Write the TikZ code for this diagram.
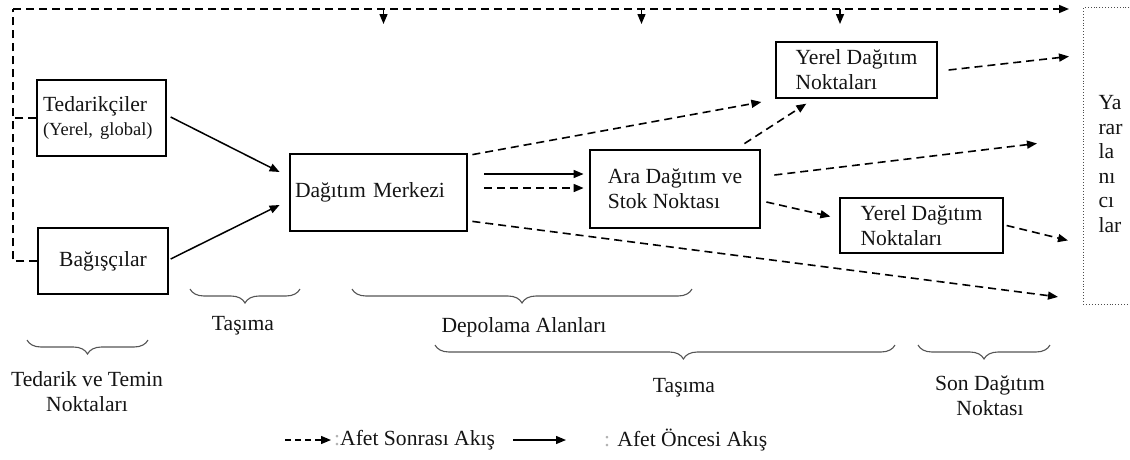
\documentclass[tikz,border=0pt]{standalone}
\usepackage{fontspec}
\setmainfont{Liberation Serif}
\usetikzlibrary{arrows.meta,decorations.pathreplacing,calc}
\definecolor{ink}{HTML}{141414}
\definecolor{bracegray}{HTML}{555555}
\begin{document}
\begin{tikzpicture}[x=1pt,y=-1pt,
  font=\fontsize{21.6}{25}\selectfont, text=ink,
  box/.style={draw=black, line width=1.3pt, inner sep=0pt, align=left},
  thickbox/.style={box, line width=2.8pt},
  tip/.style={-{Triangle[length=10pt,width=8pt]}},
  solidflow/.style={tip, line width=1.5pt, black},
  dashflow/.style={tip, line width=1.6pt, black, dash pattern=on 8pt off 5pt},
  dashline/.style={line width=1.4pt, black, dash pattern=on 8pt off 5pt},
  curly/.style={decorate, bracegray, line width=1.1pt,
    decoration={brace, mirror, amplitude=14pt}},
  caption/.style={align=center, text=ink}
]
\useasboundingbox (0,0) rectangle (1130,459);

% ---------- boxes ----------
\node[box, minimum width=129, minimum height=76, text width=117] (ted) at (101.5,118)
  {Tedarikçiler\\[-1pt]{\fontsize{18.5}{22}\selectfont (Yerel, global)}};
\node[box, minimum width=130, minimum height=66, align=center] (bag) at (103,261) {Bağışçılar};
\node[thickbox, minimum width=177, minimum height=77, text width=167] (dm) at (378.5,192.5)
  {Dağıtım Merkezi};
\node[thickbox, minimum width=170, minimum height=78] (ara) at (675,189)
  {Ara Dağıtım ve\\Stok Noktası};
\node[box, minimum width=161, minimum height=56] (y1) at (856.5,70)
  {Yerel Dağıtım\\Noktaları};
\node[box, minimum width=163, minimum height=55] (y2) at (921.5,225.5)
  {Yerel Dağıtım\\Noktaları};

% beneficiaries column (dotted frame running off the right edge)
\node[draw=black!70, dotted, line width=0.9pt, minimum width=60, minimum height=297,
  anchor=north west, inner sep=0pt] (yar) at (1083,7) {};
\node[anchor=west, align=left, font=\fontsize{21.6}{24.5}\selectfont] (yarT) at (1095,164)
  {Ya\\rar\\la\\nı\\cı\\lar};

% ---------- post-disaster feedback frame ----------
\coordinate (cornerL) at (13,9);
\coordinate (topEnd) at (1069,9);
\coordinate (d1s) at (383.5,9);  \coordinate (d1e) at (383.5,24);
\coordinate (d2s) at (641.5,9);  \coordinate (d2e) at (641.5,24);
\coordinate (d3s) at (840,9);    \coordinate (d3e) at (840,24);

\draw[dashline] (bag.west) -| (cornerL);
\draw[dashflow] (cornerL) -- (topEnd);
\draw[dashline] (ted.west) -- (ted.west -| cornerL);
\draw[tip, line width=1.4pt] (d1s) -- (d1e);
\draw[tip, line width=1.4pt] (d2s) -- (d2e);
\draw[tip, line width=1.4pt] (d3s) -- (d3e);

% ---------- flows ----------
\draw[solidflow] ($(ted.east)+(4,-1)$) -- ($(dm.west)+(-9,-20.5)$);
\draw[solidflow] ($(bag.east)+(2,-2)$) -- ($(dm.west)+(-9,12.5)$);
\draw[dashflow] ($(dm.north east)+(4,2)$) -- ($(y1.west)+(-14,32)$);
\draw[solidflow] ($(dm.east)+(16,-18.5)$) -- ($(ara.west)+(-5,-15)$);
\draw[dashflow] ($(dm.east)+(16,-4.5)$) -- ($(ara.west)+(-5,-1)$);
\draw[dashflow] ($(dm.south east)+(4,-11)$) -- ($(yar.south west)+(-25,-8)$);
\draw[dashflow] ($(ara.north east)+(-17,-5)$) -- ($(y1.south west)+(31,5)$);
\draw[dashflow] ($(ara.east)+(13,-14)$) -- ($(yar.west)+(-46,-12.5)$);
\draw[dashflow] ($(ara.east)+(5,13)$) -- ($(y2.west)+(-9,-9)$);
\draw[dashflow] ($(y1.east)+(11,0)$) -- ($(yar.west)+(-14,-99.5)$);
\draw[dashflow] ($(y2.east)+(3,0)$) -- ($(yar.west)+(-15,84.5)$);

% ---------- stage braces ----------
\coordinate (b1a) at (27,340);   \coordinate (b1b) at (148,340);
\coordinate (b2a) at (190,289);  \coordinate (b2b) at (300,289);
\coordinate (b3a) at (352,289);  \coordinate (b3b) at (692,289);
\coordinate (b4a) at (435,345);  \coordinate (b4b) at (895,345);
\coordinate (b5a) at (918,345);  \coordinate (b5b) at (1050,345);
\draw[curly] (b1a) -- (b1b);
\draw[curly] (b2a) -- (b2b);
\draw[curly] (b3a) -- (b3b);
\draw[curly, decoration={aspect=0.54}] (b4a) -- (b4b);
\draw[curly] (b5a) -- (b5b);

\node[caption] (l1) at (87,392) {Tedarik ve Temin\\Noktaları};
\node[caption] (l2) at (243,326) {Taşıma};
\node[caption] (l3) at (524,327) {Depolama Alanları};
\node[caption] (l4) at (684,388) {Taşıma};
\node[caption] (l5) at (990,396) {Son Dağıtım\\Noktası};

% ---------- legend ----------
\coordinate (lg1a) at (285,440); \coordinate (lg1b) at (331,440);
\coordinate (lg2a) at (513,440); \coordinate (lg2b) at (566,440);
\draw[tip, line width=1.3pt, dash pattern=on 6pt off 4pt] (lg1a) -- (lg1b);
\node[anchor=west, inner sep=0pt] (lgt1) at (334,440) {\textcolor{black!30}{:}Afet Sonrası Akış};
\draw[tip, line width=1.3pt] (lg2a) -- (lg2b);
\node[anchor=west, inner sep=0pt] (lgt2) at (604,440) {\textcolor{black!30}{:} Afet Öncesi Akış};
\end{tikzpicture}
\end{document}
